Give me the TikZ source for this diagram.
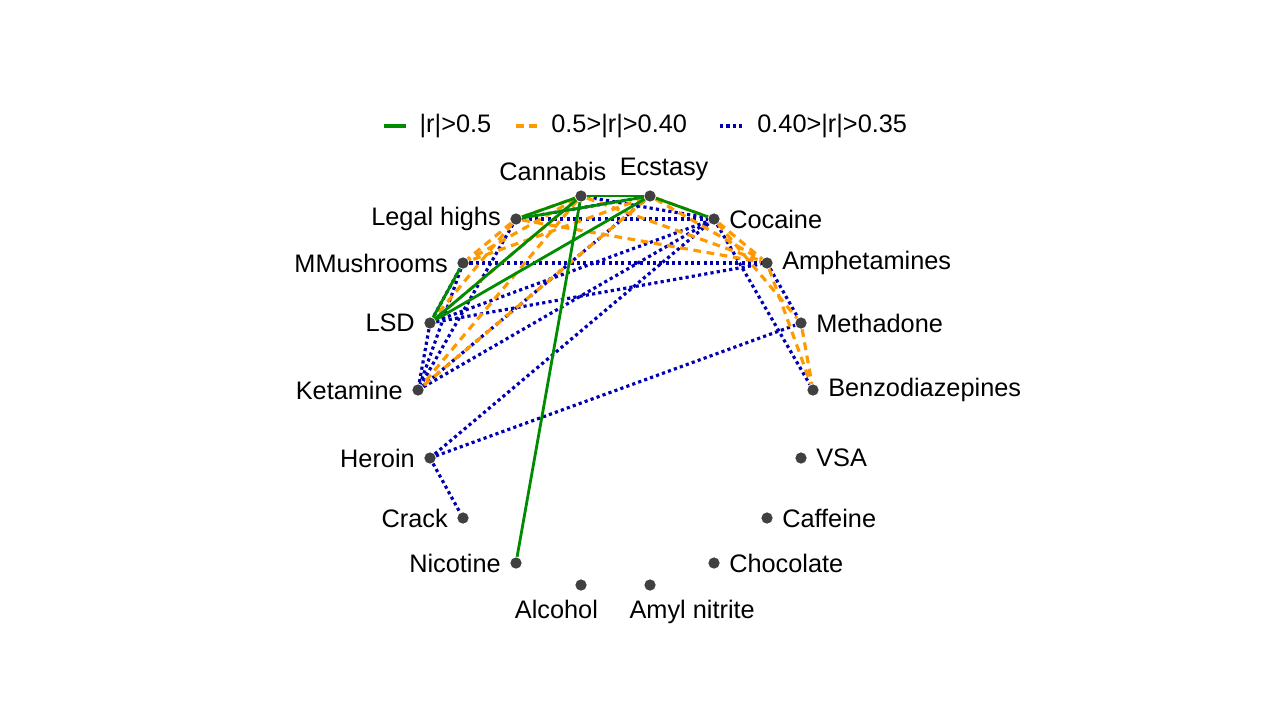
\documentclass[tikz,border=0pt]{standalone}
\usepackage{fontspec}
\setmainfont{Liberation Sans}
\begin{document}
\begin{tikzpicture}[x=0.01cm, y=-0.01cm, font=\fontsize{7.2}{8}\selectfont,
    label distance=-1pt,
    main/.style = {circle, fill=black!75, inner sep=0pt, minimum size=3.2pt},
    strong/.style = {draw=green!55!black, line width=0.8pt},
    medium/.style = {draw=orange!80!yellow, line width=0.9pt, dash pattern=on 2.2pt off 1.6pt},
    weak/.style = {draw=blue!70!black, line width=0.9pt, dash pattern=on 0.9pt off 0.9pt}]
    \useasboundingbox (0,0) rectangle (1280,720);
    % nodes
    \node[main, label={[xshift=-8pt]above:Cannabis}] (can) at (581,196) {};
    \node[main, label={[xshift=4pt]above:Ecstasy}] (ecs) at (650,196) {};
    \node[main, label=left:Legal highs] (leg) at (516,219) {};
    \node[main, label=right:Cocaine] (coc) at (714,219) {};
    \node[main, label=left:MMushrooms] (mus) at (463,263) {};
    \node[main, label=right:Amphetamines] (amp) at (767,263) {};
    \node[main, label=left:LSD] (lsd) at (430,323) {};
    \node[main, label=right:Methadone] (met) at (801,323) {};
    \node[main, label=left:Ketamine] (ket) at (418,390) {};
    \node[main, label=right:Benzodiazepines] (ben) at (813,390) {};
    \node[main, label=left:Heroin] (her) at (430,458) {};
    \node[main, label=right:VSA] (vsa) at (801,458) {};
    \node[main, label=left:Crack] (cra) at (463,518) {};
    \node[main, label=right:Caffeine] (caf) at (767,518) {};
    \node[main, label=left:Nicotine] (nic) at (516,563) {};
    \node[main, label=right:Chocolate] (cho) at (714,563) {};
    \node[main, label={[xshift=-7pt]below:Alcohol}] (alc) at (581,585) {};
    \node[main, label={[xshift=12pt]below:Amyl nitrite}] (amy) at (650,585) {};
    % weak
    \foreach \a/\b in {leg/coc, mus/amp, lsd/amp, lsd/coc, ket/coc, ket/ecs, her/coc,
        her/met, her/cra, coc/ben, amp/met, leg/ket, lsd/ket, mus/ket, can/coc, leg/ecs, mus/lsd}
        \draw[weak] (\a) -- (\b);
    % medium
    \foreach \a/\b in {can/mus, ecs/mus, can/amp, ecs/amp, ecs/ket, leg/lsd, leg/mus,
        coc/amp, amp/ben, met/ben, leg/amp, can/ket, can/lsd, coc/met, leg/can, ecs/coc}
        \draw[medium] (\a) -- (\b);
    % strong
    \foreach \a/\b in {can/leg, leg/ecs, ecs/coc, lsd/ecs, lsd/can, mus/lsd, can/nic, can/ecs}
        \draw[strong] (\a) -- (\b);
    % legend
    \coordinate (l1a) at (384,126); \coordinate (l1b) at (406,126);
    \coordinate (l2a) at (516,126); \coordinate (l2b) at (538,126);
    \coordinate (l3a) at (720,126); \coordinate (l3b) at (744,126);
    \draw[strong, line width=1.1pt] (l1a) -- (l1b) node[right, black] {|r|>0.5};
    \draw[medium] (l2a) -- (l2b) node[right, black] {0.5>|r|>0.40};
    \draw[weak] (l3a) -- (l3b) node[right, black] {0.40>|r|>0.35};
\end{tikzpicture}
\end{document}
